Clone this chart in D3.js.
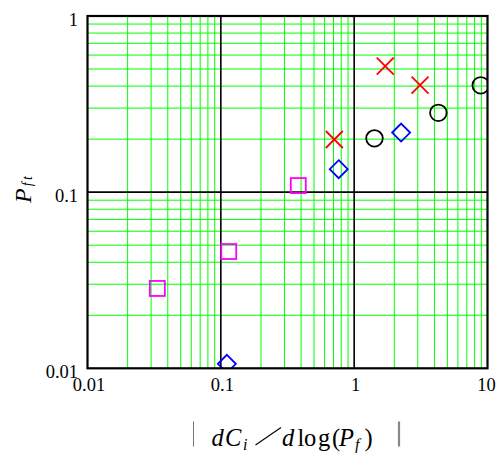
<!DOCTYPE html>
<html><head><meta charset="utf-8">
<script src="https://cdn.jsdelivr.net/npm/d3@7"></script>
<style>html,body{margin:0;padding:0;background:#fff;}</style>
</head><body>
<svg id="c" width="500" height="453"></svg>
<script>
// Data
const squareX = [0.0334, 0.1146, 0.381];
const squareY = [0.0284, 0.046, 0.109];
const diamondX = [0.111, 0.766, 2.25];
const diamondY = [0.0106, 0.135, 0.218];
const crossX = [0.71, 1.71, 3.12];
const crossY = [0.199, 0.52, 0.405];
const circleX = [1.42, 4.28, 8.9];
const circleY = [0.202, 0.282, 0.404];
const xTicks = [0.01, 0.1, 1, 10];
const yTicks = [0.01, 0.1, 1];
const xTickLabels = ["0.01", "0.1", "1", "10"];
const yTickLabels = ["0.01", "0.1", "1"];

const L = 87.5, R = 487.5, T = 16, B = 368.3;
const svg = d3.select("#c");
const x = d3.scaleLog().domain([0.01, 10]).range([L, R]);
const y = d3.scaleLog().domain([0.01, 1]).range([B, T]);

// minor grid
const minorX = [], minorY = [];
for (let d = -2; d < 1; d++) for (let k = 2; k <= 9; k++) minorX.push(k * Math.pow(10, d));
for (let d = -2; d < 0; d++) for (let k = 2; k <= 9; k++) minorY.push(k * Math.pow(10, d));
const g = svg.append("g");
g.selectAll(".mx").data(minorX).enter().append("line")
  .attr("x1", d => x(d)).attr("x2", d => x(d)).attr("y1", T).attr("y2", B)
  .attr("stroke", "#00ff00").attr("stroke-width", 1);
g.selectAll(".my").data(minorY).enter().append("line")
  .attr("y1", d => y(d)).attr("y2", d => y(d)).attr("x1", L).attr("x2", R)
  .attr("stroke", "#00ff00").attr("stroke-width", 1);
// major grid
g.selectAll(".Mx").data(xTicks.slice(1, -1)).enter().append("line")
  .attr("x1", d => x(d)).attr("x2", d => x(d)).attr("y1", T).attr("y2", B)
  .attr("stroke", "#000").attr("stroke-width", 1.6);
g.selectAll(".My").data(yTicks.slice(1, -1)).enter().append("line")
  .attr("y1", d => y(d)).attr("y2", d => y(d)).attr("x1", L).attr("x2", R)
  .attr("stroke", "#000").attr("stroke-width", 1.6);

svg.append("clipPath").attr("id", "clip").append("rect")
  .attr("x", L).attr("y", T).attr("width", R - L).attr("height", B - T);
const m = svg.append("g").attr("clip-path", "url(#clip)");

const sq = d3.zip(squareX, squareY);
m.selectAll(".sq").data(sq).enter().append("rect")
  .attr("x", d => x(d[0]) - 7.5).attr("y", d => y(d[1]) - 7.5)
  .attr("width", 15).attr("height", 15)
  .attr("fill", "none").attr("stroke", "#ff00ff").attr("stroke-width", 1.8);

const dm = d3.zip(diamondX, diamondY);
m.selectAll(".dm").data(dm).enter().append("path")
  .attr("d", d => { const cx = x(d[0]), cy = y(d[1]), s = 9;
    return `M${cx},${cy - s}L${cx + s},${cy}L${cx},${cy + s}L${cx - s},${cy}Z`; })
  .attr("fill", "none").attr("stroke", "#0000ff").attr("stroke-width", 1.8);

const cr = d3.zip(crossX, crossY);
m.selectAll(".cr").data(cr).enter().append("path")
  .attr("d", d => { const cx = x(d[0]), cy = y(d[1]), s = 8.5;
    return `M${cx - s},${cy - s}L${cx + s},${cy + s}M${cx - s},${cy + s}L${cx + s},${cy - s}`; })
  .attr("fill", "none").attr("stroke", "#ff0000").attr("stroke-width", 1.8);

const ci = d3.zip(circleX, circleY);
m.selectAll(".ci").data(ci).enter().append("circle")
  .attr("cx", d => x(d[0])).attr("cy", d => y(d[1])).attr("r", 8.3)
  .attr("fill", "none").attr("stroke", "#000").attr("stroke-width", 1.8);

// frame
svg.append("rect").attr("x", L).attr("y", T).attr("width", R - L).attr("height", B - T)
  .attr("fill", "none").attr("stroke", "#000").attr("stroke-width", 2.2);

const font = "'Liberation Serif', 'Times New Roman', serif";
// tick labels
svg.selectAll(".xt").data(xTicks).enter().append("text")
  .attr("x", (d, i) => x(d) + (i === 3 ? -1 : 1.5)).attr("y", 391)
  .attr("text-anchor", "middle").attr("font-family", font).attr("font-size", 18.5)
  .text((d, i) => xTickLabels[i]);
svg.selectAll(".yt").data(yTicks).enter().append("text")
  .attr("x", 78).attr("y", d => y(d) + 10)
  .attr("text-anchor", "end").attr("font-family", font).attr("font-size", 18.5)
  .text((d, i) => yTickLabels[i]);

// y title
const yt = svg.append("text").attr("transform", "translate(31,203) rotate(-90)")
  .attr("text-anchor", "start").attr("font-family", font).attr("font-size", 24).attr("font-style", "italic");
yt.append("tspan").text("P");
yt.append("tspan").attr("font-size", 14).attr("dy", 1).attr("dx", 2).attr("letter-spacing", 2.5).text("ft");

// x title, pieces placed along the baseline
const xtParts = [
  {t: "d", x: 211.5, dy: 0, fs: 24.5, it: true},
  {t: "C", x: 225, dy: 0, fs: 24.5, it: true},
  {t: "i", x: 243, dy: 4, fs: 16, it: true},
  {t: "d", x: 282, dy: 0, fs: 24.5, it: true},
  {t: "l", x: 297.5, dy: 0, fs: 24.5, it: false},
  {t: "o", x: 304, dy: 0, fs: 24.5, it: false},
  {t: "g", x: 318, dy: 0, fs: 24.5, it: false},
  {t: "(", x: 332, dy: 0, fs: 24.5, it: false},
  {t: "P", x: 339, dy: 0, fs: 24.5, it: true},
  {t: "f", x: 355, dy: 4, fs: 16, it: true},
  {t: ")", x: 364.5, dy: 0, fs: 24.5, it: false}
];
const xg = svg.append("g").attr("font-family", font);
xg.selectAll("text").data(xtParts).enter().append("text")
  .attr("x", d => d.x).attr("y", d => 446 + d.dy)
  .attr("font-size", d => d.fs).attr("font-style", d => d.it ? "italic" : "normal")
  .attr("fill", "#000").text(d => d.t);
// absolute-value bars and the long division slash
xg.append("line").attr("x1", 193.5).attr("y1", 421.5).attr("x2", 193.5).attr("y2", 446.5)
  .attr("stroke", "#777").attr("stroke-width", 1);
xg.append("line").attr("x1", 399).attr("y1", 421.5).attr("x2", 399).attr("y2", 446.5)
  .attr("stroke", "#888").attr("stroke-width", 2.2);
xg.append("line").attr("x1", 255.5).attr("y1", 445).attr("x2", 281).attr("y2", 427.5)
  .attr("stroke", "#000").attr("stroke-width", 1.1);
</script>
</body></html>
